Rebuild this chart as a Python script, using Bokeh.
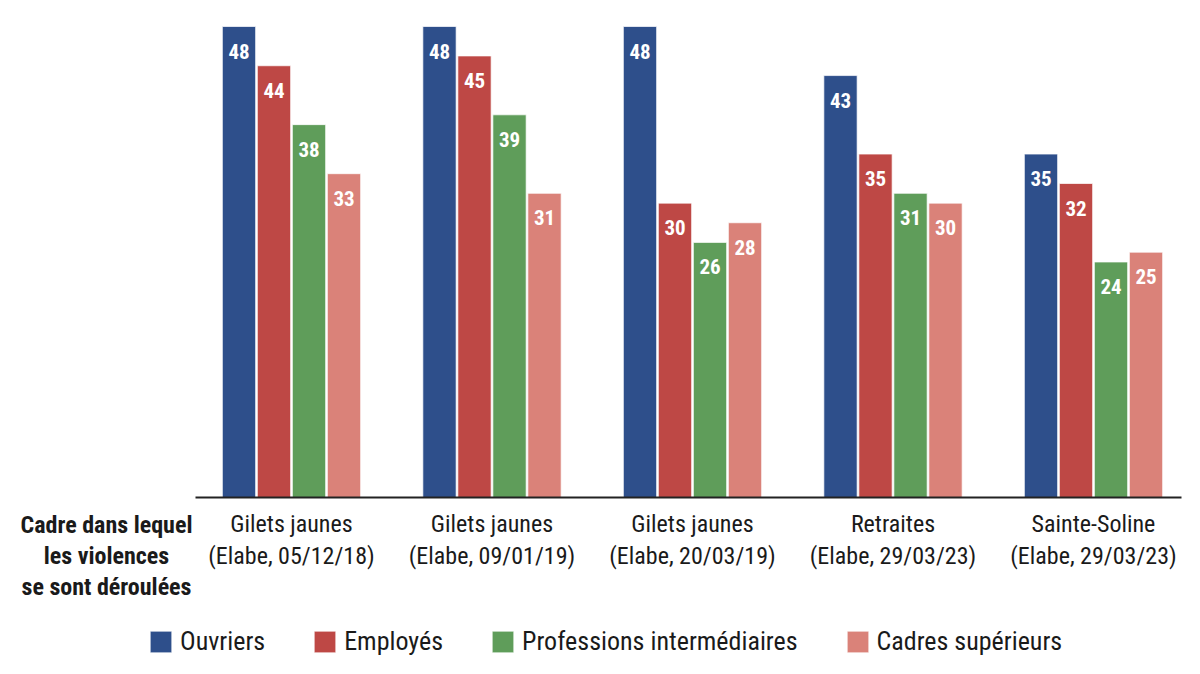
from bokeh.plotting import figure
from bokeh.models import (ColumnDataSource, Range1d, Label, Legend, LinearAxis,
                          FixedTicker)
from bokeh.transform import dodge
from bokeh.embed import file_html
from bokeh.resources import INLINE

FONT = "Liberation Sans Narrow, Roboto Condensed, Open Sans Condensed, Noto Sans Condensed, DejaVu Sans Condensed, Roboto, sans-serif"

groups = [
    "Gilets jaunes\n(Elabe, 05/12/18)",
    "Gilets jaunes\n(Elabe, 09/01/19)",
    "Gilets jaunes\n(Elabe, 20/03/19)",
    "Retraites\n(Elabe, 29/03/23)",
    "Sainte-Soline\n(Elabe, 29/03/23)",
]
series_names = ["Ouvriers", "Employés", "Professions intermédiaires", "Cadres supérieurs"]
ouvriers = [48, 48, 48, 43, 35]
employes = [44, 45, 30, 35, 32]
prof_inter = [38, 39, 26, 31, 24]
cadres_sup = [33, 31, 28, 30, 25]
series_values = [ouvriers, employes, prof_inter, cadres_sup]
colors = ["#2E4F8B", "#BE4845", "#5F9D5A", "#DA8279"]
axis_title = "Cadre dans lequel\nles violences\nse sont déroulées"

W, H = 1184, 658
PX_X = 200.5      # pixels per group
PX_Y = 9.8125     # pixels per percentage point
X0_PX, Y0_PX = 291, 497   # screen position of first group centre / baseline

xs = list(range(len(groups)))

p = figure(
    width=W, height=H,
    x_range=Range1d(-X0_PX / PX_X, (W - X0_PX) / PX_X),
    y_range=Range1d(-(H - Y0_PX) / PX_Y, Y0_PX / PX_Y),
    output_backend="svg", toolbar_location=None,
    x_axis_location=None, y_axis_location=None,
    min_border=0, min_border_left=0, min_border_right=0,
    min_border_top=0, min_border_bottom=0,
)
p.outline_line_color = None
p.xgrid.visible = False
p.ygrid.visible = False
p.background_fill_color = "white"
p.border_fill_color = "white"

pitch = 0.1746
offsets = [-1.5 * pitch, -0.5 * pitch, 0.5 * pitch, 1.5 * pitch]

legend_items = []
for name, vals, col, off in zip(series_names, series_values, colors, offsets):
    src = ColumnDataSource(dict(x=xs, v=vals, t=[str(v) for v in vals]))
    r = p.vbar(x=dodge("x", off), top="v", width=0.166, bottom=0,
               source=src, fill_color=col, line_color="white", line_alpha=0.7, line_width=1)
    p.text(x=dodge("x", off), y="v", text="t", source=src,
           text_align="center", text_baseline="top", y_offset=17,
           text_color="white", text_font_size="21px", text_font_style="bold",
           text_font={"value": FONT})
    legend_items.append((name, [r]))

ax = LinearAxis(
    ticker=FixedTicker(ticks=xs),
    major_label_overrides={i: g for i, g in zip(xs, groups)},
    fixed_location=0,
    bounds=(-0.48, len(groups) - 1 + 0.44),
)
ax.axis_line_color = "#222222"
ax.axis_line_width = 2
ax.major_tick_line_color = None
ax.minor_tick_line_color = None
ax.major_label_standoff = 6
ax.major_label_text_font = FONT
ax.major_label_text_font_size = "24px"
ax.major_label_text_color = "#1a1a1a"
ax.major_label_text_line_height = 1.15
p.add_layout(ax, "below")

lbl = Label(x=106, y=H - 510, x_units="screen", y_units="screen", text=axis_title,
            text_align="center", text_baseline="top", text_font=FONT,
            text_font_size="24px", text_font_style="bold", text_color="#1a1a1a",
            text_line_height=1.12)
p.add_layout(lbl)

legend = Legend(items=legend_items, orientation="horizontal", location=(147, 2),
                spacing=46, label_standoff=6, glyph_width=27, glyph_height=27,
                label_height=27, padding=0, margin=0, border_line_color=None,
                background_fill_alpha=0, label_text_font=FONT,
                label_text_font_size="26px", label_text_color="#1a1a1a")
p.add_layout(legend)

open("out.html", "w").write(file_html(p, INLINE))
